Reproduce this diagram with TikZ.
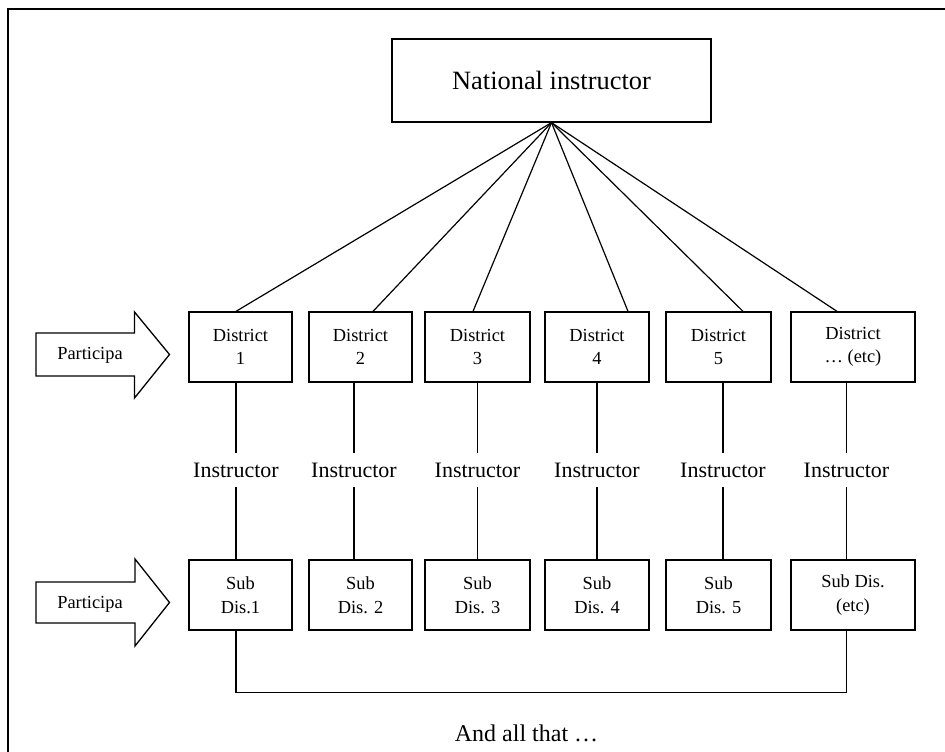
\documentclass[tikz,border=0pt]{standalone}
\usepackage{fontspec}
\setmainfont{Liberation Serif}
\begin{document}
\begin{tikzpicture}[x=1pt,y=-1pt,
  box/.style={draw,line width=1.3pt,inner sep=0pt,align=center,minimum height=70pt,font=\fontsize{18.4}{23.5}\selectfont},
  natbox/.style={draw,line width=1.3pt,inner sep=0pt,minimum width=319pt,minimum height=83pt,font=\fontsize{26.4}{30}\selectfont},
  conn/.style={line width=1.2pt},
  lab/.style={inner sep=0pt,minimum height=34pt,font=\fontsize{22}{26}\selectfont},
  arrowshape/.style={draw,line width=1.3pt,line join=miter},
  arrowtext/.style={inner sep=0pt,font=\fontsize{18.4}{22}\selectfont},
  frame/.style={line width=1.6pt}]
\useasboundingbox (0,0) rectangle (945,752);
% frame
\draw[frame] (945,9) -- (8,9) -- (8,753);
% national
\node[natbox] (nat) at (551.5,80.5) {National instructor};
% districts
\node[box,minimum width=103pt] (d1) at (240.5,347) {District\\1};
\node[box,minimum width=103pt] (d2) at (360.5,347) {District\\2};
\node[box,minimum width=105pt] (d3) at (477.5,347) {District\\3};
\node[box,minimum width=104pt] (d4) at (597,347) {District\\4};
\node[box,minimum width=105pt] (d5) at (718.5,347) {District\\5};
\node[box,minimum width=124pt] (d6) at (853,347) {District\\… (etc)};
% sub districts
\node[box,minimum width=103pt] (s1) at (240.5,595) {Sub\\Dis.1};
\node[box,minimum width=103pt] (s2) at (360.5,595) {Sub\\Dis. 2};
\node[box,minimum width=105pt] (s3) at (477.5,595) {Sub\\Dis. 3};
\node[box,minimum width=104pt] (s4) at (597,595) {Sub\\Dis. 4};
\node[box,minimum width=105pt] (s5) at (718.5,595) {Sub\\Dis. 5};
\node[box,minimum width=124pt] (s6) at (853,595) {Sub Dis.\\(etc)};
% instructor labels
\node[lab] (i1) at (236,470) {Instructor};
\node[lab] (i2) at (354,470) {Instructor};
\node[lab] (i3) at (477.5,470) {Instructor};
\node[lab] (i4) at (597,470) {Instructor};
\node[lab] (i5) at (723,470) {Instructor};
\node[lab] (i6) at (846.5,470) {Instructor};
% national to districts
\draw[conn] (nat.south) -- ([xshift=-4.5pt]d1.north);
\draw[conn] (nat.south) -- ([xshift=12.5pt]d2.north);
\draw[conn] (nat.south) -- ([xshift=-4.5pt]d3.north);
\draw[conn] (nat.south) -- ([xshift=31pt]d4.north);
\draw[conn] (nat.south) -- ([xshift=24.5pt]d5.north);
\draw[conn] (nat.south) -- ([xshift=-16pt]d6.north);
% district to instructor to sub
\draw[conn] ([xshift=-4.5pt]d1.south) -- (i1.north);
\draw[conn] (i1.south) -- ([xshift=-4.5pt]s1.north);
\draw[conn] ([xshift=-6.5pt]d2.south) -- (i2.north);
\draw[conn] (i2.south) -- ([xshift=-6.5pt]s2.north);
\draw[conn] (d3.south) -- (i3.north);
\draw[conn] (i3.south) -- (s3.north);
\draw[conn] (d4.south) -- (i4.north);
\draw[conn] (i4.south) -- (s4.north);
\draw[conn] ([xshift=4.5pt]d5.south) -- (i5.north);
\draw[conn] (i5.south) -- ([xshift=4.5pt]s5.north);
\draw[conn] ([xshift=-6.5pt]d6.south) -- (i6.north);
\draw[conn] (i6.south) -- ([xshift=-6.5pt]s6.north);
% bottom bracket
\coordinate (bl) at (236,692.5);
\draw[conn] ([xshift=-4.5pt]s1.south) -- (bl) -| ([xshift=-6.5pt]s6.south);
\node[inner sep=0pt,font=\fontsize{24}{28}\selectfont] (all) at (526.5,733) {And all that …};
% participa arrows
\draw[arrowshape] (36,333) -- (134.5,333) -- (134.5,312) -- (169.5,354.5) -- (134.5,398) -- (134.5,376) -- (36,376) -- cycle;
\node[arrowtext] (p1) at (90,355.5) {Participa};
\draw[arrowshape] (36,582) -- (135,582) -- (135,559) -- (169.5,602.5) -- (135,646) -- (135,623) -- (36,623) -- cycle;
\node[arrowtext] (p2) at (90,604) {Participa};
\end{tikzpicture}
\end{document}
